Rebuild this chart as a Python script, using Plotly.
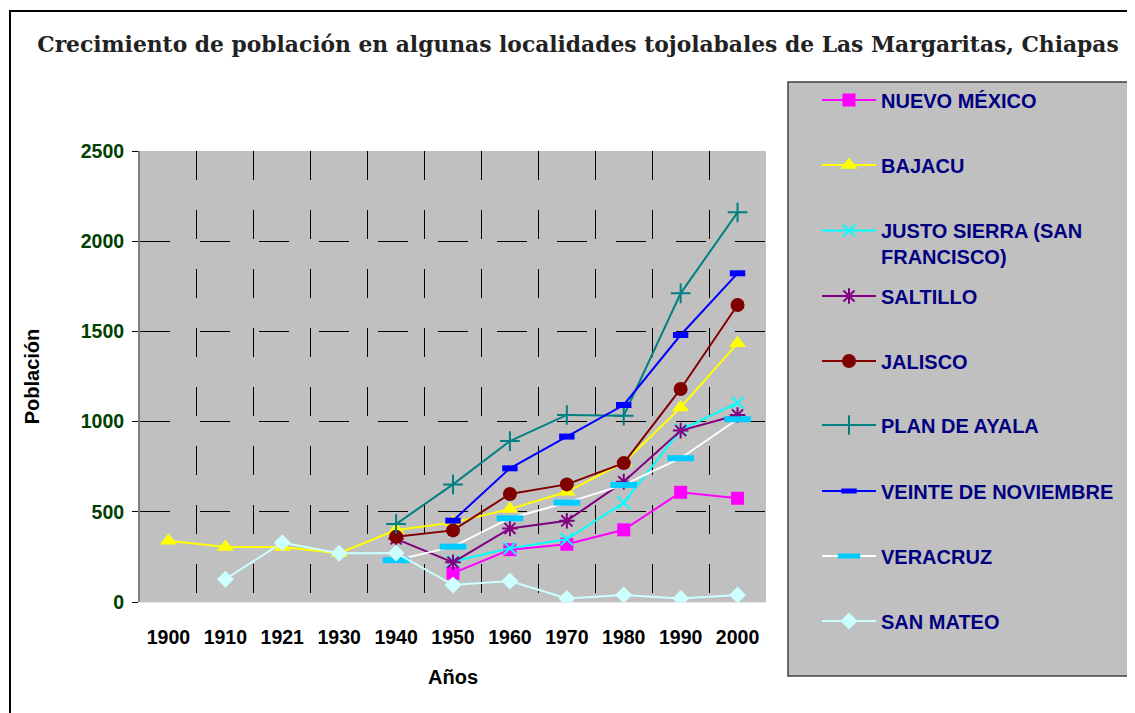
import plotly.graph_objects as go

years = ["1900", "1910", "1921", "1930", "1940", "1950", "1960", "1970", "1980", "1990", "2000"]

nuevo_mexico = [None, None, None, None, None, 160, 290, 320, 400, 608, 575]
bajacu = [340, 305, 305, 270, 399, 440, 515, 611, 772, 1078, 1434]
justo_sierra = [None, None, None, None, None, 225, 298, 348, 551, 953, 1105]
saltillo = [None, None, None, None, 350, 220, 408, 450, 667, 950, 1037]
jalisco = [None, None, None, None, 362, 397, 599, 652, 770, 1181, 1646]
plan_de_ayala = [None, None, None, None, 432, 652, 892, 1037, 1033, 1711, 2160]
veinte_nov = [None, None, None, None, None, 451, 741, 917, 1092, 1480, 1822]
veracruz = [None, None, None, None, 232, 307, 464, 551, 649, 797, 1013]
san_mateo = [None, 126, 329, 270, 272, 94, 116, 20, 39, 20, 39]

series_names = ["NUEVO MÉXICO", "BAJACU", "JUSTO SIERRA (SAN<br>FRANCISCO)", "SALTILLO", "JALISCO",
                "PLAN DE AYALA", "VEINTE DE NOVIEMBRE", "VERACRUZ", "SAN MATEO"]
series_values = [nuevo_mexico, bajacu, justo_sierra, saltillo, jalisco,
                 plan_de_ayala, veinte_nov, veracruz, san_mateo]

# the page body adds an 8px margin; work in reference pixel coordinates and shift
OFF = 8
W, H = 1135 - OFF, 713 - OFF
L, R, T, B = 140 - OFF, 1135 - 766, 151 - OFF, 713 - 602

styles = [
    dict(line="#FF00FF", marker=dict(symbol="square", size=13, color="#FF00FF")),
    dict(line="#FFFF00", marker=dict(symbol="triangle-up", size=15, color="#FFFF00")),
    dict(line="#00FFFF", marker=dict(symbol="x-thin", size=12, color="#00FFFF", line=dict(color="#00FFFF", width=2))),
    dict(line="#800080", marker=dict(symbol="asterisk", size=13, color="#800080", line=dict(color="#800080", width=2))),
    dict(line="#800000", marker=dict(symbol="circle", size=14, color="#800000")),
    dict(line="#008080", marker=dict(symbol="cross-thin", size=14, color="#008080", line=dict(color="#008080", width=2))),
    dict(line="#0000FF", marker=dict(symbol="line-ew", size=11, color="#0000FF", line=dict(color="#0000FF", width=6))),
    dict(line="#FFFFFF", marker=dict(symbol="line-ew", size=19, color="#00CCFF", line=dict(color="#00CCFF", width=6))),
    dict(line="#CCFFFF", marker=dict(symbol="diamond", size=13, color="#CCFFFF")),
]

legend_y_px = [100, 165, 230, 296, 361, 425, 491, 556, 621]

def cx(p):
    return (p - OFF) / W
def cy(p):
    return 1 - (p - OFF) / H

fig = go.Figure()
legend_layouts = {}
for i, (name, vals, st) in enumerate(zip(series_names, series_values, styles)):
    lg = "legend" if i == 0 else f"legend{i+1}"
    fig.add_trace(go.Scatter(
        x=years, y=vals, name=name, mode="lines+markers",
        line=dict(color=st["line"], width=2), marker=st["marker"],
        connectgaps=False, legend=lg,
    ))
    legend_layouts[lg] = dict(
        xref="container", yref="container",
        x=cx(817), y=cy(legend_y_px[i]),
        xanchor="left", yanchor="middle",
        bgcolor="rgba(0,0,0,0)", borderwidth=0,
        itemwidth=54, valign="top",
        font=dict(family="Liberation Sans", size=20, color="#000080", weight="bold"),
    )
    if i == 2:
        legend_layouts[lg]["yanchor"] = "top"
        legend_layouts[lg]["y"] = cy(legend_y_px[i] - 19)

pw = W - L - R
ph = H - T - B
def px_x(p):
    return (p - OFF - L) / pw
def px_y(p):
    return (H - B - (p - OFF)) / ph

shapes = [
    # outer chart border
    dict(type="rect", xref="paper", yref="paper", x0=px_x(10), x1=px_x(1135 + 20),
         y0=px_y(713 + 20), y1=px_y(11), line=dict(color="black", width=2), layer="below"),
    # legend box
    dict(type="rect", xref="paper", yref="paper", x0=px_x(788), x1=px_x(1135 + 10),
         y0=px_y(676), y1=px_y(82), fillcolor="#C0C0C0", line=dict(color="#404040", width=1.5),
         layer="below"),
]

fig.update_layout(
    width=W, height=H,
    margin=dict(l=L, r=R, t=T, b=B),
    paper_bgcolor="white",
    plot_bgcolor="#C0C0C0",
    showlegend=True,
    title=dict(
        text="Crecimiento de población en algunas localidades tojolabales de Las Margaritas, Chiapas",
        xref="container", yref="container", x=cx(578), y=cy(44),
        xanchor="center", yanchor="middle",
        font=dict(family="DejaVu Serif", size=21.8, color="#222222", weight="bold"),
    ),
    shapes=shapes,
    **legend_layouts,
)

fig.update_xaxes(
    type="category", tickson="boundaries", range=[-0.5, len(years) - 0.5],
    showgrid=True, gridcolor="#000000", gridwidth=1, griddash="29px,30px",
    ticks="", showline=True, linecolor="#E8E8E8", linewidth=1,
    tickfont=dict(family="Liberation Sans", size=19.5, color="black", weight="bold"),
    ticklabelstandoff=18,
    title=dict(text="Años", font=dict(family="Liberation Sans", size=20, color="black", weight="bold"),
               standoff=22),
    zeroline=False,
)
fig.update_yaxes(
    range=[0, 2500], dtick=500, tick0=0,
    showgrid=True, gridcolor="#000000", gridwidth=1, griddash="30px,29.5px",
    ticks="outside", ticklen=6, tickcolor="black",
    showline=True, linecolor="#808080", linewidth=2,
    tickfont=dict(family="Liberation Sans", size=19.5, color="#004000", weight="bold"),
    ticklabelstandoff=4,
    title=dict(text="Población", font=dict(family="Liberation Sans", size=20, color="black", weight="bold"),
               standoff=36),
    zeroline=False,
)

fig.write_html("out.html")
